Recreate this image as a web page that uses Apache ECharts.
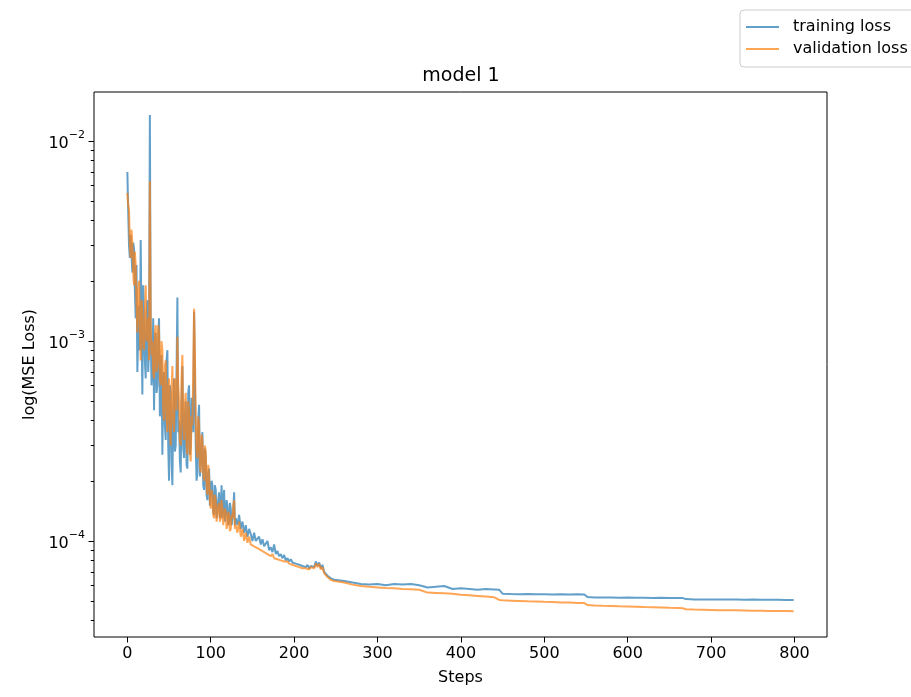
<!DOCTYPE html>
<html><head><meta charset="utf-8">
<script src="https://cdn.jsdelivr.net/npm/echarts@6/dist/echarts.min.js"></script>
<style>html,body{margin:0;padding:0;background:#fff;overflow:hidden;width:911px;height:697px}#c{width:1000px;height:697px}</style>
</head><body><div id="c"></div>
<script>
const steps = [
0,1,2,3,4,5,6,7,8,9,10,11,12,13,14,15,16,17,18,19,20,21,22,23,24,25,26,27,28,29,
30,31,32,33,34,35,36,37,38,39,40,41,42,43,44,45,46,47,48,49,50,51,52,53,54,55,56,57,58,59,
60,61,62,63,64,65,66,67,68,69,70,71,72,73,74,75,76,77,78,79,80,81,82,83,84,85,86,87,88,89,
90,91,92,93,94,95,96,97,98,99,100,101,102,103,104,105,106,107,108,109,110,111,112,113,114,115,116,117,118,119,
120,121,122,123,124,125,126,127,128,129,130,
132,134,136,138,140,142,144,146,148,150,152,154,156,158,160,162,164,166,168,170,172,174,176,178,180,182,184,186,188,190,192,194,196,198,200,202,204,206,208,210,212,214,216,218,220,222,224,226,228,230,232,234,236,238,240,242,244,246,248,250,
260,270,280,290,300,310,320,330,340,350,360,370,380,390,400,410,420,430,440,446,450,460,470,480,490,500,510,520,530,540,548,552,560,570,580,590,600,610,620,630,640,650,660,666,670,680,690,700,710,720,730,740,750,760,770,780,790,799];

const trainingLoss = [
7.0e-3,4.5e-3,3.0e-3,2.6e-3,3.4e-3,2.7e-3,2.2e-3,3.1e-3,2.9e-3,1.8e-3,
1.3e-3,2.4e-3,7.0e-4,1.1e-3,1.5e-3,9.0e-4,3.2e-3,1.2e-3,5.4e-4,1.9e-3,
1.2e-3,8.0e-4,6.5e-4,1.4e-3,1.6e-3,7.0e-4,9.0e-4,1.35e-2,1.1e-3,6.0e-4,
7.5e-4,1.3e-3,4.5e-4,9.0e-4,1.1e-3,5.5e-4,6.0e-4,1.0e-3,1.3e-3,4.2e-4,
5.0e-4,8.5e-4,2.7e-4,6.0e-4,7.0e-4,3.8e-4,3.2e-4,8.0e-4,9.0e-4,3.0e-4,
2.0e-4,6.0e-4,5.5e-4,2.5e-4,1.9e-4,4.5e-4,6.5e-4,2.8e-4,3.0e-4,7.0e-4,
1.65e-3,3.5e-4,4.0e-4,2.5e-4,2.2e-4,5.0e-4,7.5e-4,2.9e-4,2.6e-4,4.2e-4,
5.0e-4,2.4e-4,2.3e-4,5.5e-4,6.0e-4,2.7e-4,3.0e-4,5.2e-4,4.5e-4,3.5e-4,
1.4e-3,6.5e-4,3.0e-4,2.0e-4,2.2e-4,4.0e-4,4.8e-4,2.1e-4,2.4e-4,3.0e-4,
3.5e-4,1.9e-4,1.8e-4,2.9e-4,2.6e-4,1.7e-4,1.6e-4,2.2e-4,2.3e-4,1.5e-4,
1.5e-4,2.0e-4,1.9e-4,1.4e-4,1.35e-4,1.9e-4,1.8e-4,1.3e-4,1.3e-4,1.6e-4,
1.75e-4,1.3e-4,1.4e-4,1.9e-4,1.3e-4,1.5e-4,1.8e-4,1.25e-4,1.35e-4,1.6e-4,
1.5e-4,1.2e-4,1.25e-4,1.55e-4,1.45e-4,1.2e-4,1.2e-4,1.4e-4,1.75e-4,1.2e-4,
1.3e-4,
1.2e-4,1.35e-4,1.15e-4,1.25e-4,
1.1e-4,1.2e-4,1.05e-4,1.15e-4,1.08e-4,1.0e-4,1.1e-4,1.0e-4,9.8e-5,1.05e-4,
9.6e-5,1.02e-4,9.4e-5,9.2e-5,1.0e-4,9.0e-5,9.3e-5,8.8e-5,9.6e-5,8.6e-5,
8.9e-5,8.4e-5,8.6e-5,8.2e-5,8.5e-5,8.0e-5,8.2e-5,7.9e-5,8.1e-5,7.8e-5,
7.9e-5,7.7e-5,7.8e-5,7.6e-5,7.7e-5,7.5e-5,7.6e-5,7.4e-5,7.6e-5,7.3e-5,
7.5e-5,7.6e-5,7.4e-5,7.9e-5,7.5e-5,7.8e-5,7.3e-5,7.6e-5,7.0e-5,7.1e-5,
6.7e-5,6.6e-5,6.5e-5,6.45e-5,6.4e-5,6.4e-5,
6.3e-5,6.2e-5,6.1e-5,6.05e-5,6.1e-5,6.0e-5,6.1e-5,6.05e-5,6.1e-5,6.0e-5,5.85e-5,5.9e-5,5.95e-5,5.75e-5,5.8e-5,5.75e-5,5.7e-5,5.75e-5,5.72e-5,
5.7e-5,5.45e-5,
5.43e-5,5.42e-5,5.43e-5,5.41e-5,5.42e-5,5.4e-5,5.41e-5,5.4e-5,5.41e-5,
5.4e-5,5.24e-5,
5.22e-5,5.21e-5,5.21e-5,5.2e-5,5.21e-5,5.2e-5,5.2e-5,5.19e-5,5.2e-5,5.19e-5,5.19e-5,
5.18e-5,5.12e-5,
5.1e-5,5.1e-5,5.09e-5,5.1e-5,5.09e-5,5.09e-5,5.08e-5,5.09e-5,5.08e-5,5.08e-5,5.08e-5,5.07e-5,
5.07e-5];

const validationLoss = [
5.5e-3,4.8e-3,4.5e-3,3.0e-3,2.6e-3,3.6e-3,3.1e-3,2.2e-3,1.9e-3,2.8e-3,
2.4e-3,1.5e-3,1.1e-3,1.8e-3,2.0e-3,1.2e-3,8.0e-4,1.6e-3,1.4e-3,9.5e-4,
9.0e-4,1.4e-3,1.9e-3,1.0e-3,1.0e-3,1.3e-3,8.0e-4,6.3e-3,1.2e-3,8.5e-4,
1.0e-3,7.0e-4,6.5e-4,1.1e-3,1.2e-3,7.0e-4,7.5e-4,1.2e-3,1.1e-3,6.5e-4,
6.0e-4,1.0e-3,9.0e-4,4.5e-4,4.0e-4,7.5e-4,8.0e-4,4.2e-4,3.5e-4,6.0e-4,
6.5e-4,3.5e-4,3.0e-4,5.5e-4,7.5e-4,4.0e-4,3.5e-4,6.5e-4,6.0e-4,4.5e-4,
1.05e-3,6.0e-4,5.0e-4,3.2e-4,3.0e-4,6.5e-4,8.5e-4,3.8e-4,3.2e-4,4.8e-4,
5.5e-4,3.0e-4,2.7e-4,5.0e-4,4.5e-4,2.8e-4,2.5e-4,4.2e-4,3.8e-4,7.0e-4,
1.45e-3,9.0e-4,4.0e-4,2.8e-4,2.6e-4,4.2e-4,3.8e-4,2.4e-4,2.2e-4,3.4e-4,
3.2e-4,2.2e-4,2.0e-4,3.0e-4,2.8e-4,1.9e-4,1.7e-4,2.4e-4,2.1e-4,1.6e-4,
1.45e-4,1.8e-4,1.7e-4,1.35e-4,1.3e-4,1.7e-4,1.6e-4,1.25e-4,1.25e-4,1.5e-4,
1.55e-4,1.25e-4,1.3e-4,1.6e-4,1.45e-4,1.2e-4,1.2e-4,1.45e-4,1.4e-4,1.15e-4,
1.2e-4,1.4e-4,1.35e-4,1.12e-4,1.15e-4,1.35e-4,1.3e-4,1.5e-4,1.6e-4,1.15e-4,
1.2e-4,
1.1e-4,1.25e-4,1.05e-4,1.15e-4,
1.0e-4,1.1e-4,9.8e-5,1.05e-4,9.6e-5,9.8e-5,9.4e-5,9.6e-5,9.2e-5,9.4e-5,
9.0e-5,9.2e-5,8.8e-5,8.9e-5,8.6e-5,8.7e-5,8.4e-5,8.6e-5,8.2e-5,8.3e-5,
8.1e-5,8.2e-5,8.0e-5,8.1e-5,7.9e-5,7.8e-5,7.9e-5,7.7e-5,7.8e-5,7.6e-5,
7.7e-5,7.5e-5,7.6e-5,7.4e-5,7.5e-5,7.3e-5,7.4e-5,7.3e-5,7.4e-5,7.2e-5,
7.4e-5,7.5e-5,7.3e-5,7.7e-5,7.4e-5,7.7e-5,7.2e-5,7.4e-5,6.9e-5,7.0e-5,
6.6e-5,6.5e-5,6.4e-5,6.35e-5,6.3e-5,6.3e-5,
6.2e-5,6.05e-5,5.95e-5,5.9e-5,5.86e-5,5.82e-5,5.8e-5,5.76e-5,5.73e-5,5.7e-5,5.52e-5,5.5e-5,5.47e-5,5.44e-5,5.38e-5,5.35e-5,5.31e-5,5.27e-5,5.23e-5,
5.07e-5,5.05e-5,
5.03e-5,5.01e-5,4.99e-5,4.98e-5,4.96e-5,4.95e-5,4.93e-5,4.92e-5,4.9e-5,
4.89e-5,4.78e-5,
4.76e-5,4.74e-5,4.73e-5,4.71e-5,4.7e-5,4.69e-5,4.67e-5,4.66e-5,4.65e-5,4.63e-5,4.62e-5,
4.61e-5,4.56e-5,
4.54e-5,4.53e-5,4.52e-5,4.51e-5,4.5e-5,4.5e-5,4.49e-5,4.48e-5,4.48e-5,4.47e-5,4.46e-5,4.46e-5,
4.45e-5];

const xTicks = [0,100,200,300,400,500,600,700,800];
const yMajorTicks = [1e-4,1e-3,1e-2];
const yMinorTicks = [4e-5,5e-5,6e-5,7e-5,8e-5,9e-5,2e-4,3e-4,4e-4,5e-4,6e-4,7e-4,8e-4,9e-4,2e-3,3e-3,4e-3,5e-3,6e-3,7e-3,8e-3,9e-3];
const seriesNames = ['training loss','validation loss'];
const colors = ['#1f77b4','#ff7f0e'];

const FONT = 'DejaVu Sans';
const yMin = 3.31e-5, yMax = 1.758e-2;

const chart = echarts.init(document.getElementById('c'), null, {renderer:'canvas', width:1000, height:697});
function supLabel(v){
  const e = Math.round(Math.log10(v));
  return '{b|10}{s|' + (e < 0 ? '\u2212' : '') + Math.abs(e) + '}';
}
const yBase = {
  type:'log', logBase:10, min:yMin, max:yMax, position:'left',
  axisLine:{show:false, onZero:false}, splitLine:{show:false}
};
chart.setOption({
  animation:false,
  backgroundColor:'#fff',
  title:{text:'model 1', left:456, top:62, textAlign:'center',
    textStyle:{fontFamily:FONT, fontSize:19, fontWeight:'normal', color:'#000'}},
  legend:{data:seriesNames, orient:'vertical', left:740, top:10,
    itemWidth:33, itemHeight:14, itemGap:6,
    padding:[9,40,10,5],
    itemStyle:{color:'rgba(0,0,0,0)', borderColor:'rgba(0,0,0,0)', borderWidth:0},
    borderColor:'#cccccc', borderWidth:1, borderRadius:4, backgroundColor:'rgba(255,255,255,0.8)',
    textStyle:{fontFamily:FONT, fontSize:16, color:'#000', padding:[0,0,0,9]}},
  grid:{left:94, right:173, top:92, bottom:60, show:true, borderColor:'#000', borderWidth:1, backgroundColor:'transparent'},
  xAxis:{type:'value', min:-40, max:839,
    axisLine:{show:false, onZero:false}, splitLine:{show:false},
    axisTick:{show:true, customValues:xTicks, length:5.5, lineStyle:{color:'#000', width:1}},
    axisLabel:{customValues:xTicks, fontFamily:FONT, fontSize:16, color:'#000', margin:9},
    name:'Steps', nameLocation:'middle', nameGap:33,
    nameTextStyle:{fontFamily:FONT, fontSize:16, color:'#000'}},
  yAxis:[
    Object.assign({}, yBase, {
      axisTick:{show:true, customValues:yMajorTicks, length:5.5, lineStyle:{color:'#000', width:1}},
      axisLabel:{customValues:yMajorTicks, formatter:supLabel, margin:9,
        rich:{b:{fontFamily:FONT, fontSize:16, color:'#000', lineHeight:22, verticalAlign:'bottom'},
              s:{fontFamily:FONT, fontSize:11, color:'#000', lineHeight:11, verticalAlign:'top'}}},
      name:'log(MSE Loss)', nameLocation:'middle', nameGap:54,
      nameTextStyle:{fontFamily:FONT, fontSize:16, color:'#000'}
    }),
    Object.assign({}, yBase, {
      axisTick:{show:true, customValues:yMinorTicks, length:3.2, lineStyle:{color:'#000', width:1}},
      axisLabel:{show:false}
    })
  ],
  series:[
    {name:seriesNames[0], type:'line', data:steps.map((s,i)=>[s, trainingLoss[i]]),
     symbol:'none', lineStyle:{color:colors[0], width:2, opacity:0.7}, itemStyle:{color:colors[0], opacity:0.7}},
    {name:seriesNames[1], type:'line', data:steps.map((s,i)=>[s, validationLoss[i]]),
     symbol:'none', lineStyle:{color:colors[1], width:2, opacity:0.7}, itemStyle:{color:colors[1], opacity:0.7}}
  ]
});
</script>
</body></html>
